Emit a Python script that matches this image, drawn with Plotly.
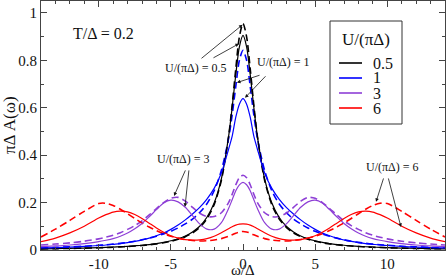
import plotly.graph_objects as go

# omega/Delta grid
omega = [-14, -13, -12, -11, -10, -9.5, -9, -8.5, -8, -7.5, -7, -6.5, -6, -5.5, -5, -4.5, -4, -3.5, -3, -2.5, -2, -1.5, -1, -0.75, -0.5, -0.25,
         0, 0.25, 0.5, 0.75, 1, 1.5, 2, 2.5, 3, 3.5, 4, 4.5, 5, 5.5, 6, 6.5, 7, 7.5, 8, 8.5, 9, 9.5, 10, 11, 12, 13, 14]

# U/(pi Delta) = 0.5
u05_solid = [0.0051, 0.0060, 0.0070, 0.0083, 0.0100, 0.0111, 0.0123, 0.0138, 0.0156, 0.0177, 0.020, 0.023, 0.027, 0.032, 0.039, 0.047, 0.059, 0.076, 0.100, 0.138, 0.198, 0.300, 0.478, 0.602, 0.740, 0.857,
             0.905, 0.857, 0.740, 0.602, 0.478, 0.300, 0.198, 0.138, 0.100, 0.076, 0.059, 0.047, 0.039, 0.032, 0.027, 0.023, 0.020, 0.0177, 0.0156, 0.0138, 0.0123, 0.0111, 0.0100, 0.0083, 0.0070, 0.0060, 0.0051]
u05_dash = [0.0049, 0.0056, 0.0066, 0.0078, 0.0095, 0.0105, 0.0117, 0.0130, 0.0147, 0.0167, 0.0191, 0.0221, 0.0258, 0.0305, 0.0367, 0.0450, 0.0562, 0.0719, 0.0955, 0.132, 0.191, 0.294, 0.478, 0.611, 0.764, 0.899,
            0.955, 0.899, 0.764, 0.611, 0.478, 0.294, 0.191, 0.132, 0.0955, 0.0719, 0.0562, 0.0450, 0.0367, 0.0305, 0.0258, 0.0221, 0.0191, 0.0167, 0.0147, 0.0130, 0.0117, 0.0105, 0.0095, 0.0078, 0.0066, 0.0056, 0.0049]
# U/(pi Delta) = 1
u1_solid = [0.009, 0.010, 0.012, 0.015, 0.019, 0.021, 0.024, 0.027, 0.031, 0.036, 0.042, 0.050, 0.060, 0.072, 0.087, 0.105, 0.127, 0.152, 0.180, 0.215, 0.260, 0.325, 0.425, 0.480, 0.560, 0.615,
            0.638, 0.615, 0.560, 0.480, 0.425, 0.325, 0.260, 0.215, 0.180, 0.152, 0.127, 0.105, 0.087, 0.072, 0.060, 0.050, 0.042, 0.036, 0.031, 0.027, 0.024, 0.021, 0.019, 0.015, 0.012, 0.010, 0.009]
u1_dash = [0.009, 0.011, 0.013, 0.016, 0.020, 0.022, 0.025, 0.028, 0.032, 0.037, 0.043, 0.050, 0.058, 0.068, 0.079, 0.093, 0.110, 0.130, 0.158, 0.195, 0.250, 0.335, 0.470, 0.570, 0.690, 0.800,
           0.842, 0.800, 0.690, 0.570, 0.470, 0.335, 0.250, 0.195, 0.158, 0.130, 0.110, 0.093, 0.079, 0.068, 0.058, 0.050, 0.043, 0.037, 0.032, 0.028, 0.025, 0.022, 0.020, 0.016, 0.013, 0.011, 0.009]
# U/(pi Delta) = 3
u3_solid = [0.014, 0.017, 0.021, 0.027, 0.035, 0.041, 0.048, 0.058, 0.072, 0.090, 0.112, 0.140, 0.170, 0.198, 0.210, 0.203, 0.180, 0.145, 0.110, 0.088, 0.088, 0.115, 0.175, 0.212, 0.250, 0.275,
            0.285, 0.275, 0.250, 0.212, 0.175, 0.115, 0.088, 0.088, 0.110, 0.145, 0.180, 0.203, 0.210, 0.198, 0.170, 0.140, 0.112, 0.090, 0.072, 0.058, 0.048, 0.041, 0.035, 0.027, 0.021, 0.017, 0.014]
u3_dash = [0.021, 0.025, 0.030, 0.037, 0.047, 0.054, 0.062, 0.073, 0.087, 0.103, 0.123, 0.148, 0.175, 0.200, 0.218, 0.222, 0.206, 0.180, 0.155, 0.141, 0.141, 0.157, 0.200, 0.235, 0.275, 0.305,
           0.315, 0.305, 0.275, 0.235, 0.200, 0.157, 0.141, 0.141, 0.155, 0.180, 0.206, 0.222, 0.218, 0.200, 0.175, 0.148, 0.123, 0.103, 0.087, 0.073, 0.062, 0.054, 0.047, 0.037, 0.030, 0.025, 0.021]
# U/(pi Delta) = 6
u6_solid = [0.035, 0.050, 0.072, 0.100, 0.135, 0.149, 0.160, 0.164, 0.161, 0.150, 0.133, 0.113, 0.093, 0.075, 0.060, 0.050, 0.044, 0.042, 0.043, 0.048, 0.058, 0.073, 0.090, 0.098, 0.105, 0.109,
            0.110, 0.109, 0.105, 0.098, 0.090, 0.073, 0.058, 0.048, 0.043, 0.042, 0.044, 0.050, 0.060, 0.075, 0.093, 0.113, 0.133, 0.150, 0.161, 0.164, 0.160, 0.149, 0.135, 0.100, 0.072, 0.050, 0.035]
u6_dash = [0.055, 0.088, 0.125, 0.163, 0.196, 0.197, 0.188, 0.172, 0.153, 0.133, 0.114, 0.097, 0.082, 0.069, 0.058, 0.050, 0.044, 0.040, 0.038, 0.039, 0.042, 0.048, 0.058, 0.064, 0.071, 0.076,
           0.078, 0.076, 0.071, 0.064, 0.058, 0.048, 0.042, 0.039, 0.038, 0.040, 0.044, 0.050, 0.058, 0.069, 0.082, 0.097, 0.114, 0.133, 0.153, 0.172, 0.188, 0.197, 0.196, 0.163, 0.125, 0.088, 0.055]

legend_labels = ["0.5", "1", "3", "6"]
colors = ["#000000", "#0000ff", "#8e3fd6", "#ff0000"]
series = [(u05_solid, u05_dash), (u1_solid, u1_dash), (u3_solid, u3_dash), (u6_solid, u6_dash)]

x_ticks = [-10, -5, 0, 5, 10]
y_ticks = [0, 0.2, 0.4, 0.6, 0.8, 1]
y_ticktext = ["0", "0.2", "0.4", "0.6", "0.8", "1"]

FONT = "Liberation Serif, Times New Roman, DejaVu Serif, serif"
W, H = 447, 280
ML, MR, MT, MB = 41, 2, 1, 30
PW, PH = W - ML - MR, H - MT - MB

def px2paper(px, py):
    return (px - ML) / PW, (H - MB - py) / PH

fig = go.Figure()
for (sol, das), col, lab in zip(series, colors, legend_labels):
    fig.add_trace(go.Scatter(x=omega, y=das, mode="lines", name=lab + " (dashed)",
                             line=dict(color=col, width=1.6, dash="7px,4px", shape="spline", smoothing=0.8),
                             showlegend=False))
for (sol, das), col, lab in zip(series, colors, legend_labels):
    fig.add_trace(go.Scatter(x=omega, y=sol, mode="lines", name=lab,
                             line=dict(color=col, width=1.2, shape="spline", smoothing=0.8),
                             showlegend=False))

axis_col = "#444"
fig.update_xaxes(range=[-14, 14], tickvals=x_ticks, ticktext=[str(v) for v in x_ticks],
                 ticks="inside", ticklen=6, tickwidth=1, tickcolor=axis_col,
                 minor=dict(dtick=1, ticks="inside", ticklen=3, tickcolor=axis_col, tickwidth=1),
                 showline=True, linecolor=axis_col, linewidth=1.2, mirror="allticks",
                 showgrid=False, zeroline=False, automargin=False,
                 tickfont=dict(family=FONT, size=15, color="#111"))
fig.update_yaxes(range=[0, 1.05], tickvals=y_ticks, ticktext=y_ticktext,
                 ticks="inside", ticklen=6, tickwidth=1, tickcolor=axis_col,
                 minor=dict(dtick=0.1, ticks="inside", ticklen=3, tickcolor=axis_col, tickwidth=1),
                 showline=True, linecolor=axis_col, linewidth=1.2, mirror="allticks",
                 showgrid=False, zeroline=False, automargin=False,
                 tickfont=dict(family=FONT, size=15, color="#111"))

annotations = []
# axis titles
ax_, ay_ = px2paper(243, 270)
annotations.append(dict(text="ω/Δ", xref="paper", yref="paper", x=ax_, y=ay_, showarrow=False,
                        xanchor="center", yanchor="middle",
                        font=dict(family=FONT, size=15, color="#111")))
ax_, ay_ = px2paper(9, 125)
annotations.append(dict(text="πΔ A(ω)", xref="paper", yref="paper", x=ax_, y=ay_, showarrow=False,
                        xanchor="center", yanchor="middle",
                        textangle=-90, font=dict(family=FONT, size=17, color="#111")))
# temperature label
annotations.append(dict(text="T/Δ = 0.2", xref="x", yref="y", x=-9.7, y=0.913, showarrow=False,
                        xanchor="center", yanchor="middle",
                        font=dict(family=FONT, size=16, color="#111")))

label_font = dict(family=FONT, size=12, color="#111")
labels = [("U/(πΔ) = 0.5", -3.26, 0.769), ("U/(πΔ) = 1", 2.84, 0.794),
          ("U/(πΔ) = 3", -4.09, 0.384), ("U/(πΔ) = 6", 10.33, 0.351)]
for t, x, y in labels:
    annotations.append(dict(text=t, xref="x", yref="y", x=x, y=y, showarrow=False,
                            xanchor="center", yanchor="middle", font=label_font))

arrows = [((-2.98, 0.803), (-0.03, 0.95)), ((-2.15, 0.807), (-0.28, 0.87)),
          ((1.25, 0.739), (-0.42, 0.706)), ((1.66, 0.739), (0.14, 0.642)),
          ((-3.95, 0.342), (-4.78, 0.228)), ((-3.74, 0.342), (-4.02, 0.182)),
          ((9.77, 0.308), (9.22, 0.203)), ((10.05, 0.308), (10.95, 0.097))]
for (tx, ty), (hx, hy) in arrows:
    annotations.append(dict(text="", x=hx, y=hy, ax=tx, ay=ty, xref="x", yref="y", axref="x", ayref="y",
                            showarrow=True, arrowhead=2, arrowsize=0.9, arrowwidth=0.8, arrowcolor="#111"))

# legend (drawn)
shapes = []
x0, y0 = px2paper(330, 124)
x1, y1 = px2paper(402, 21)
shapes.append(dict(type="rect", xref="paper", yref="paper", x0=x0, y0=y0, x1=x1, y1=y1,
                   line=dict(color="#333", width=1), fillcolor="white", layer="above"))
tx, ty = px2paper(366, 40)
annotations.append(dict(text="U/(πΔ)", xref="paper", yref="paper", x=tx, y=ty, showarrow=False,
                        xanchor="center", yanchor="middle",
                        font=dict(family=FONT, size=17, color="#111")))
leg_y = [63, 78, 93, 108]
for lab, col, py in zip(legend_labels, colors, leg_y):
    lx0, ly = px2paper(339, py)
    lx1, _ = px2paper(362, py)
    shapes.append(dict(type="line", xref="paper", yref="paper", x0=lx0, x1=lx1, y0=ly, y1=ly,
                       line=dict(color=col, width=1.6), layer="above"))
    tx, _ = px2paper(371, py)
    annotations.append(dict(text=lab, xref="paper", yref="paper", x=tx, y=ly, xanchor="left",
                            yanchor="middle", showarrow=False,
                            font=dict(family=FONT, size=16, color="#111")))

fig.update_layout(width=W, height=H, margin=dict(l=ML, r=MR, t=MT, b=MB),
                  paper_bgcolor="white", plot_bgcolor="white", showlegend=False,
                  annotations=annotations, shapes=shapes)
fig.write_html("out.html", config={"displayModeBar": False},
               post_script="document.body.style.margin='0';document.body.style.padding='0';")
